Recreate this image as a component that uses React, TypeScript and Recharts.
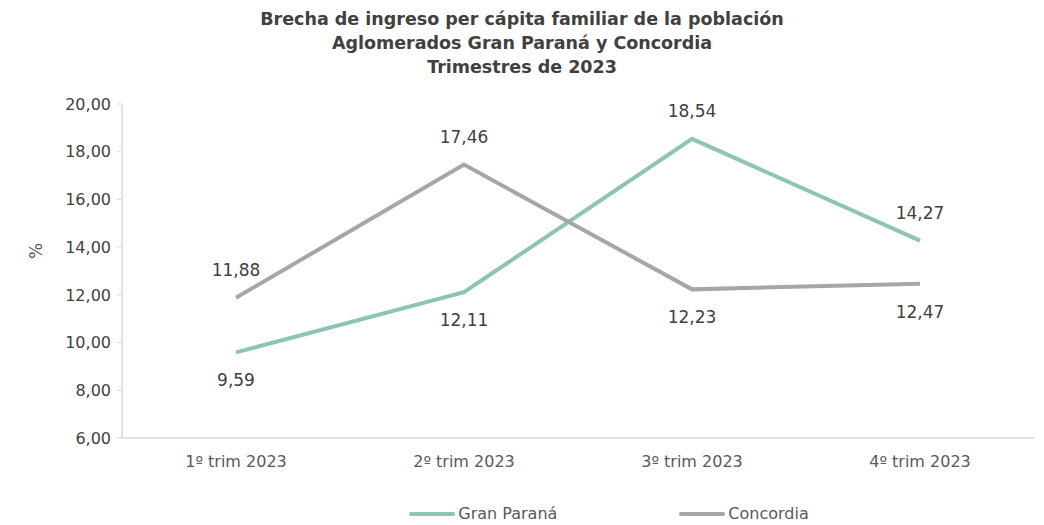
import React from 'react';
import { LineChart, Line, XAxis, YAxis, LabelList, Legend, Label } from 'recharts';

const categories = ['1º trim 2023', '2º trim 2023', '3º trim 2023', '4º trim 2023'];
const granParana = [9.59, 12.11, 18.54, 14.27];
const concordia = [11.88, 17.46, 12.23, 12.47];
const yTicks = [6, 8, 10, 12, 14, 16, 18, 20];

const data = categories.map((c, i) => ({ cat: c, gp: granParana[i], co: concordia[i] }));

const FONT = "'DejaVu Sans', sans-serif";
const GP_COLOR = '#8cc5b5';
const CO_COLOR = '#a6a6a6';

const fmt = (v: number) => v.toFixed(2).replace('.', ',');

const makeLabel = (own: number[], other: number[]) => (props: any) => {
  const { x, y, index, value } = props;
  const above = own[index] > other[index];
  return (
    <text
      x={x}
      y={above ? y - 27 : y + 29}
      textAnchor="middle"
      dominantBaseline="middle"
      fontSize={17}
      fontFamily={FONT}
      fill="#404040"
    >
      {fmt(value)}
    </text>
  );
};

const YLabel = (props: any) => {
  const vb = props.viewBox || { x: 52, y: 104, width: 70, height: 334 };
  const cx = vb.x - 15;
  const cy = vb.y + vb.height / 2 - 20;
  return (
    <text
      x={cx}
      y={cy}
      transform={`rotate(-90, ${cx}, ${cy})`}
      textAnchor="middle"
      dominantBaseline="middle"
      fontSize={17}
      fontFamily={FONT}
      fill="#595959"
    >
      %
    </text>
  );
};

const LegendContent = () => (
  <div style={{ display: 'flex', justifyContent: 'center', gap: 122, fontFamily: FONT, fontSize: 16, color: '#595959', marginLeft: 132 }}>
    {[{ n: 'Gran Paraná', c: GP_COLOR }, { n: 'Concordia', c: CO_COLOR }].map((it) => (
      <div key={it.n} style={{ display: 'flex', alignItems: 'center' }}>
        <span style={{ display: 'inline-block', width: 46, height: 4, background: it.c, borderRadius: 2, marginRight: 3 }} />
        <span>{it.n}</span>
      </div>
    ))}
  </div>
);

export default function App() {
  return (
    <div style={{ position: 'absolute', left: 0, top: 0, width: 1044, height: 525, background: '#fff' }}>
      <div
        style={{
          position: 'absolute',
          left: 0,
          top: 7,
          width: 1044,
          textAlign: 'center',
          fontFamily: FONT,
          fontWeight: 700,
          fontSize: 17.5,
          lineHeight: '24px',
          color: '#404040',
        }}
      >
        <div>Brecha de ingreso per cápita familiar de la población</div>
        <div>Aglomerados Gran Paraná y Concordia</div>
        <div>Trimestres de 2023</div>
      </div>
      <LineChart
        width={1044}
        height={525}
        data={data}
        margin={{ top: 104, right: 10, bottom: 0, left: 52 }}
      >
        <XAxis
          dataKey="cat"
          axisLine={{ stroke: '#d9d9d9', strokeWidth: 1.5 }}
          tickLine={false}
          tick={{ fill: '#595959', fontSize: 16, fontFamily: FONT }}
          tickMargin={12}
          height={55}
          padding={{ left: 114, right: 114 }}
        />
        <YAxis
          domain={[6, 20]}
          ticks={yTicks}
          width={70}
          axisLine={{ stroke: '#d9d9d9', strokeWidth: 1.5 }}
          tickLine={{ stroke: '#d9d9d9' }}
          tickSize={5}
          tickMargin={6}
          tickFormatter={fmt}
          tick={{ fill: '#404040', fontSize: 16, fontFamily: FONT }}
          interval={0}
        >
          <Label content={<YLabel />} />
        </YAxis>
        <Legend verticalAlign="bottom" height={32} content={<LegendContent />} wrapperStyle={{ bottom: -11 }} />
        <Line type="linear" dataKey="gp" name="Gran Paraná" stroke={GP_COLOR} strokeWidth={4} dot={false} isAnimationActive={false}>
          <LabelList dataKey="gp" content={makeLabel(granParana, concordia)} />
        </Line>
        <Line type="linear" dataKey="co" name="Concordia" stroke={CO_COLOR} strokeWidth={4} dot={false} isAnimationActive={false}>
          <LabelList dataKey="co" content={makeLabel(concordia, granParana)} />
        </Line>
      </LineChart>
    </div>
  );
}
